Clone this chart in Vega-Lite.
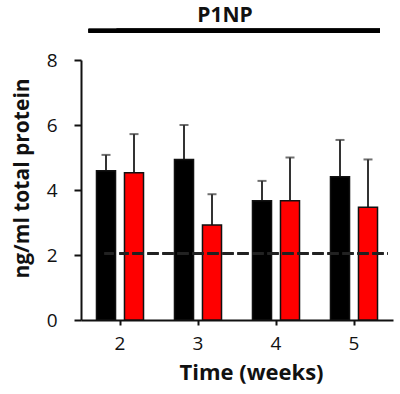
{
  "$schema": "https://vega.github.io/schema/vega-lite/v6.json",
  "width": 312,
  "height": 260,
  "autosize": {"type": "none"},
  "padding": {"left": 81, "top": 60, "right": 7, "bottom": 74},
  "background": "white",
  "config": {
    "view": {"stroke": null},
    "font": "Open Sans"
  },
  "title": {
    "text": "P1NP",
    "font": "Open Sans",
    "fontSize": 21,
    "fontWeight": "bold",
    "color": "#111",
    "anchor": "middle",
    "offset": 3,
    "dx": -12
  },
  "data": {
    "values": [
      {"week": "2", "group": "A", "mean": 4.59, "upper": 5.08},
      {"week": "2", "group": "B", "mean": 4.53, "upper": 5.72},
      {"week": "3", "group": "A", "mean": 4.94, "upper": 6.0},
      {"week": "3", "group": "B", "mean": 2.92, "upper": 3.87},
      {"week": "4", "group": "A", "mean": 3.67, "upper": 4.28},
      {"week": "4", "group": "B", "mean": 3.67, "upper": 5.0},
      {"week": "5", "group": "A", "mean": 4.41, "upper": 5.54},
      {"week": "5", "group": "B", "mean": 3.47, "upper": 4.94}
    ]
  },
  "encoding": {
    "x": {
      "field": "week",
      "type": "nominal",
      "scale": {"paddingInner": 0.397, "paddingOuter": 0.1985},
      "axis": {
        "title": "Time (weeks)",
        "titleFont": "Open Sans",
        "titleFontSize": 22,
        "titleFontWeight": "bold",
        "titleColor": "#111",
        "titlePadding": 9,
        "titleX": 170,
        "labelAngle": 0,
        "labelFont": "Open Sans",
        "labelFontSize": 19,
        "labelColor": "#111",
        "labelPadding": 9,
        "domainColor": "#111",
        "domainWidth": 2,
        "tickColor": "#111",
        "tickWidth": 2,
        "tickSize": 5
      }
    },
    "xOffset": {
      "field": "group",
      "type": "nominal",
      "scale": {"paddingInner": 0.32}
    }
  },
  "layer": [
    {
      "mark": {"type": "rule", "color": "#333", "strokeWidth": 2},
      "encoding": {
        "y": {"field": "mean", "type": "quantitative"},
        "y2": {"field": "upper"}
      }
    },
    {
      "mark": {"type": "tick", "color": "#333", "thickness": 2, "size": 9},
      "encoding": {
        "y": {"field": "upper", "type": "quantitative"}
      }
    },
    {
      "mark": {"type": "bar", "stroke": "#111", "strokeWidth": 1.5},
      "encoding": {
        "y": {
          "field": "mean",
          "type": "quantitative",
          "scale": {"domain": [0, 8]},
          "axis": {
            "title": "ng/ml total protein",
            "titleFont": "Open Sans",
            "titleFontSize": 21,
            "titleFontWeight": "bold",
            "titleColor": "#111",
            "titlePadding": 14,
            "titleY": 118,
            "values": [0, 2, 4, 6, 8],
            "labelFont": "Open Sans",
            "labelFontSize": 19,
            "labelColor": "#111",
            "labelPadding": 17,
            "grid": false,
            "domainColor": "#111",
            "domainWidth": 2,
            "tickColor": "#111",
            "tickWidth": 2,
            "tickSize": 7
          }
        },
        "color": {
          "field": "group",
          "type": "nominal",
          "scale": {"domain": ["A", "B"], "range": ["#000000", "#ff0000"]},
          "legend": null
        }
      }
    },
    {
      "mark": {"type": "rule", "color": "#222", "strokeWidth": 2.5, "strokeDash": [9, 6]},
      "encoding": {
        "y": {"datum": 2.05},
        "x": {"value": 14},
        "x2": {"value": 307}
      }
    },
    {
      "mark": {"type": "rule", "color": "#000", "strokeWidth": 4, "clip": false},
      "encoding": {
        "y": {"datum": 8.9},
        "x": {"value": -2},
        "x2": {"value": 299}
      }
    }
  ]
}
